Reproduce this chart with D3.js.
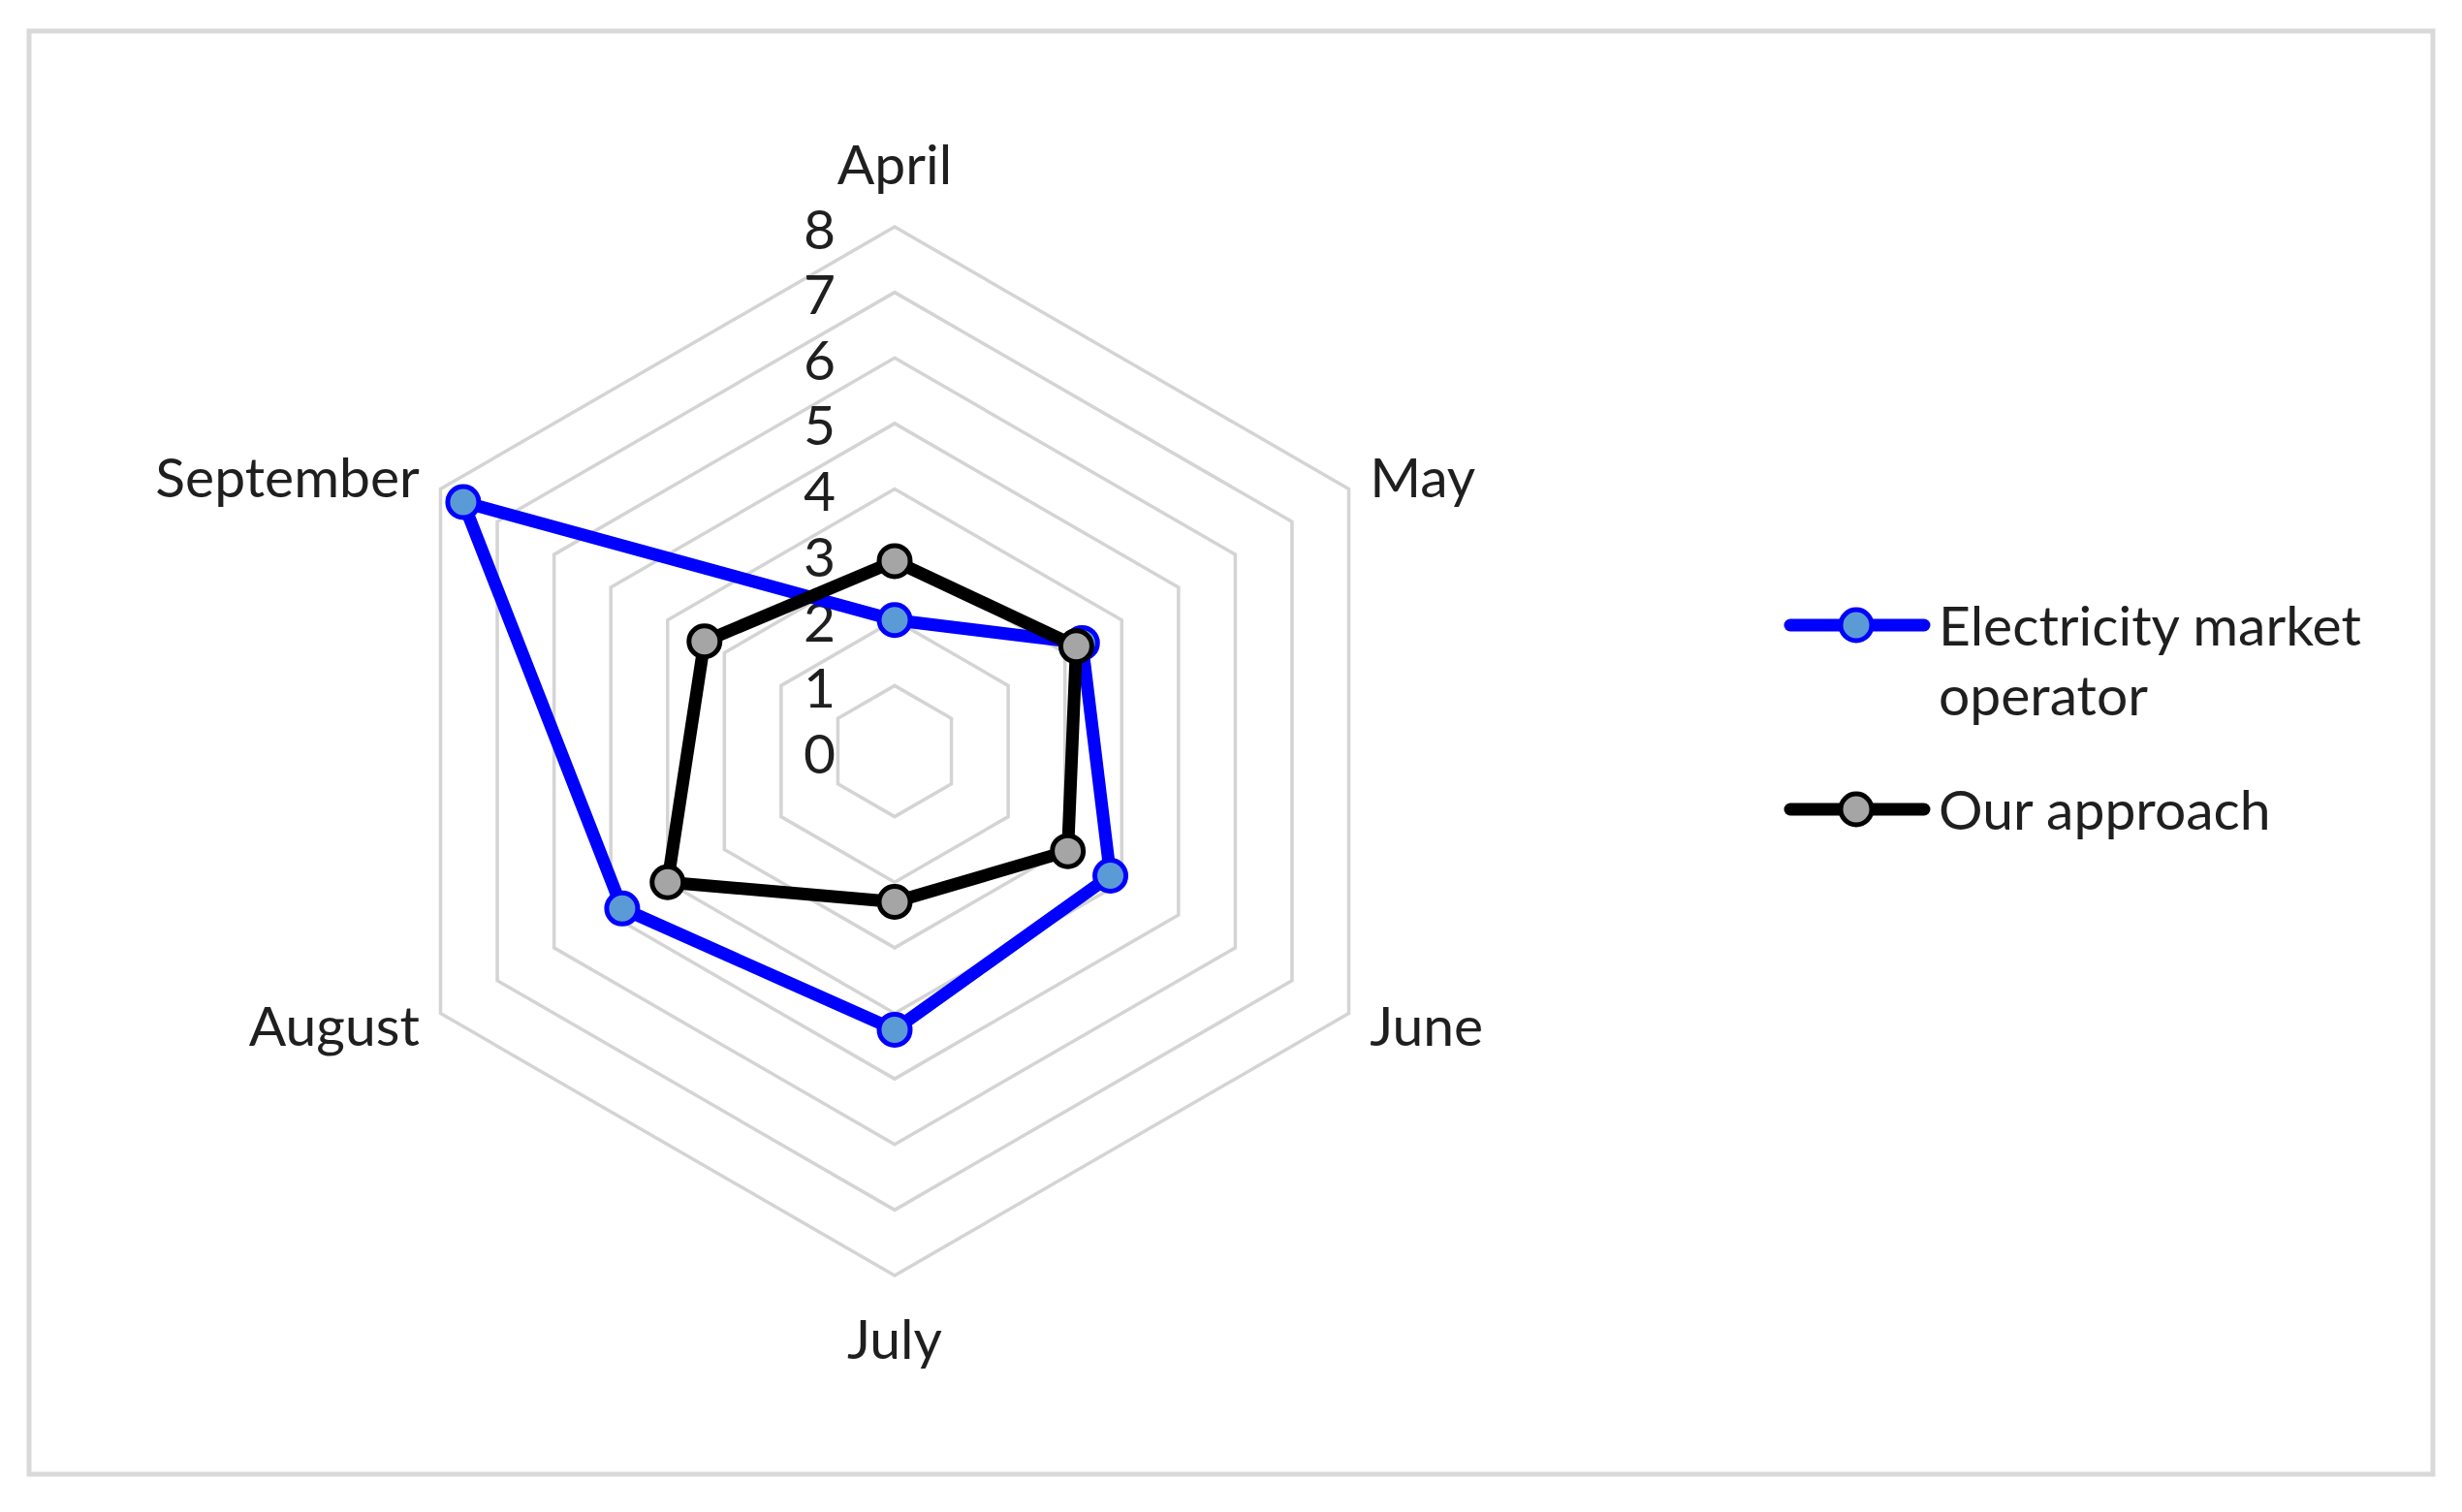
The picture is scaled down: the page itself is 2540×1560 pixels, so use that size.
<!DOCTYPE html>
<html>
<head>
<meta charset="utf-8">
<script src="https://cdn.jsdelivr.net/npm/d3@7"></script>
<style>
  html, body { margin: 0; padding: 0; background: #fff; }
  svg { display: block; }
  text { font-family: Lato, "Open Sans", sans-serif; fill: #1f1f1f; }
</style>
</head>
<body>
<svg id="chart" width="2540" height="1560"></svg>
<script>
// ---- data ----
const categories = ["April", "May", "June", "July", "August", "September"];
const seriesNames = ["Electricity market operator", "Our approach"];
const operatorValues = [2.0, 3.3, 3.8, 4.25, 4.8, 7.6];
const approachValues = [2.9, 3.2, 3.05, 2.3, 4.0, 3.35];
const tickValues = [0, 1, 2, 3, 4, 5, 6, 7, 8];

// ---- layout ----
const W = 2540, H = 1560;
const cx = 923, cy = 775, R = 541;
const fontSize = 57;
const capHalf = 0.36 * fontSize;

const svg = d3.select("#chart");

// outer frame
svg.append("rect")
  .attr("x", 30).attr("y", 32)
  .attr("width", 2480).attr("height", 1489)
  .attr("fill", "#fff").attr("stroke", "#d9d9d9").attr("stroke-width", 5);

const r = d3.scaleLinear().domain([0, 8]).range([0, R]);
const angle = d3.scalePoint().domain(categories).range([0, 2 * Math.PI * (categories.length - 1) / categories.length]);

const pt = (cat, v) => {
  const a = angle(cat);
  return [cx + r(v) * Math.sin(a), cy - r(v) * Math.cos(a)];
};

// grid hexagons
const g = svg.append("g");
tickValues.filter(t => t > 0).forEach(t => {
  g.append("path")
    .attr("d", d3.line()(categories.map(c => pt(c, t))) + "Z")
    .attr("fill", "none")
    .attr("stroke", "#d4d4d4")
    .attr("stroke-width", 3.5);
});

// tick labels
g.selectAll("text.tick").data(tickValues).join("text")
  .attr("class", "tick")
  .attr("x", cx - 61)
  .attr("y", d => cy - r(d) + capHalf + 2)
  .attr("text-anchor", "end")
  .attr("font-size", fontSize)
  .text(d => d);

// category labels
categories.forEach(c => {
  const a = angle(c);
  const s = Math.sin(a), co = Math.cos(a);
  let anchor = "middle", off = 65;
  if (s > 0.1) { anchor = "start"; off = 25; }
  else if (s < -0.1) { anchor = "end"; off = 25; }
  const x = cx + (R + off) * s;
  const y = cy - (R + off) * co;
  svg.append("text")
    .attr("x", x).attr("y", y + capHalf)
    .attr("text-anchor", anchor)
    .attr("font-size", fontSize)
    .text(c);
});

// series
const series = [
  { name: seriesNames[0], values: operatorValues, stroke: "#0000ff", fill: "#5b9bd5" },
  { name: seriesNames[1], values: approachValues, stroke: "#000000", fill: "#a5a5a5" }
];

series.forEach(s => {
  const pts = categories.map((c, i) => pt(c, s.values[i]));
  svg.append("path")
    .attr("d", d3.line()(pts) + "Z")
    .attr("fill", "none")
    .attr("stroke", s.stroke)
    .attr("stroke-width", 13)
    .attr("stroke-linejoin", "round");
  svg.append("g").selectAll("circle").data(pts).join("circle")
    .attr("cx", d => d[0]).attr("cy", d => d[1])
    .attr("r", 16)
    .attr("fill", s.fill)
    .attr("stroke", s.stroke)
    .attr("stroke-width", 5);
});

// legend
const legendItems = [
  { s: series[0], lineY: 645, lines: ["Electricity market", "operator"] },
  { s: series[1], lineY: 835, lines: ["Our approach"] }
];
legendItems.forEach(item => {
  const lg = svg.append("g");
  lg.append("line")
    .attr("x1", 1847).attr("x2", 1985)
    .attr("y1", item.lineY).attr("y2", item.lineY)
    .attr("stroke", item.s.stroke).attr("stroke-width", 13)
    .attr("stroke-linecap", "round");
  lg.append("circle")
    .attr("cx", 1915).attr("cy", item.lineY).attr("r", 16)
    .attr("fill", item.s.fill).attr("stroke", item.s.stroke).attr("stroke-width", 5);
  item.lines.forEach((t, i) => {
    lg.append("text")
      .attr("x", 2000)
      .attr("y", item.lineY + capHalf + i * 72)
      .attr("font-size", fontSize)
      .text(t);
  });
});
</script>
</body>
</html>
